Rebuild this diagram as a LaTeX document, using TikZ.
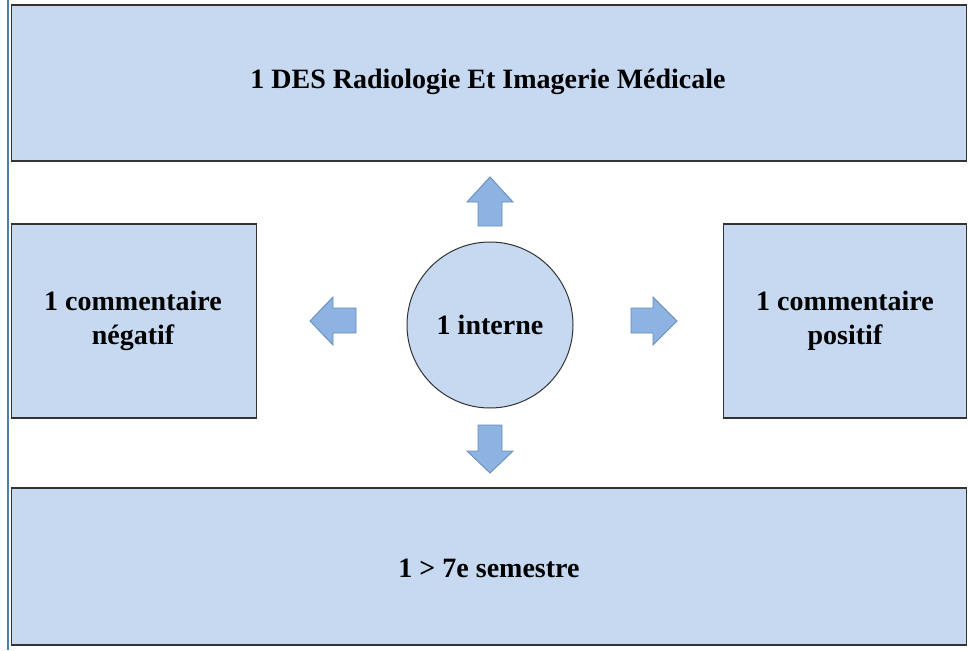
\documentclass[tikz,border=0pt]{standalone}
\usepackage{fontspec}
\setmainfont{Liberation Serif}
\definecolor{boxfill}{HTML}{C6D9F0}
\definecolor{boxline}{HTML}{333333}
\definecolor{arrfill}{HTML}{8DB3E2}
\definecolor{arrline}{HTML}{6A8DBA}
\definecolor{sideline}{HTML}{4F7FAF}
\tikzset{
  bigbox/.style={draw=boxline, line width=1.6pt, fill=boxfill},
  lbl/.style={font=\fontsize{28}{34}\selectfont\bfseries, align=center, text=black},
  blockarrow/.style={draw=arrline, line width=0.9pt, fill=arrfill, line join=miter}
}
\begin{document}
\begin{tikzpicture}[x=1pt,y=-1pt]
\useasboundingbox (0,0) rectangle (968,650);
\fill[white] (0,0) rectangle (968,650);
\draw[sideline, line width=1.6pt] (8,0) -- (8,650);
% boxes
\draw[bigbox] (11.5,5) rectangle (966.5,161);
\node[lbl] (top) at (488,82) {1 DES Radiologie Et Imagerie Médicale};
\draw[bigbox] (11.5,224) rectangle (256.5,418);
\node[lbl] (left) at (133,321) {1 commentaire\\négatif};
\draw[bigbox] (723.5,224) rectangle (966.5,418);
\node[lbl] (right) at (845,321) {1 commentaire\\positif};
\draw[bigbox] (11.5,488) rectangle (966.5,645);
\node[lbl] (bottom) at (489,568) {1 > 7e semestre};
% circle
\node[circle, draw=boxline, line width=1pt, fill=boxfill, minimum size=166pt, inner sep=0pt, lbl] (center) at (490,325) {1 interne};
% block arrows
\draw[blockarrow] (490,177) -- (513,202) -- (502,202) -- (502,226) -- (478,226) -- (478,202) -- (467,202) -- cycle;
\draw[blockarrow] (490,473) -- (513,451) -- (502,451) -- (502,425) -- (478,425) -- (478,451) -- (467,451) -- cycle;
\draw[blockarrow] (310,321) -- (333,297) -- (333,308) -- (356,308) -- (356,333) -- (333,333) -- (333,345) -- cycle;
\draw[blockarrow] (677,321) -- (653,297) -- (653,308) -- (631,308) -- (631,333) -- (653,333) -- (653,345) -- cycle;
\end{tikzpicture}
\end{document}
